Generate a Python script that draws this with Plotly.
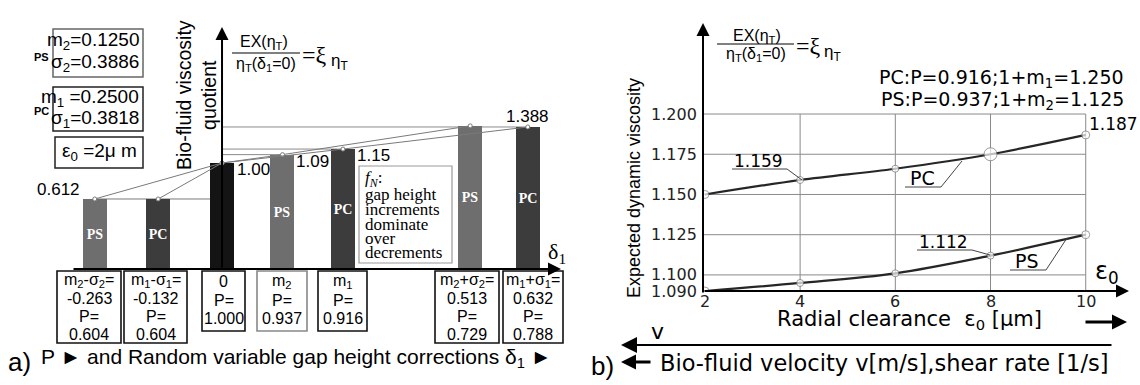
import plotly.graph_objects as go

W, H = 1140, 385

# ---------------- data: panel a) ----------------
delta = [-0.263, -0.132, 0.0, 0.125, 0.25, 0.513, 0.632]   # gap height corrections δ1
quotient = [0.612, 0.612, 1.00, 1.09, 1.15, 1.40, 1.388]    # bio-fluid viscosity quotient
material = ["PS", "PC", "", "PS", "PC", "PS", "PC"]
prob = [0.604, 0.604, 1.000, 0.937, 0.916, 0.729, 0.788]
box_head = ["m<sub>2</sub>-σ<sub>2</sub>=", "m<sub>1</sub>-σ<sub>1</sub>=", "0",
            "m<sub>2</sub>", "m<sub>1</sub>",
            "m<sub>2</sub>+σ<sub>2</sub>=", "m<sub>1</sub>+σ<sub>1</sub>="]
value_labels = ["0.612", "", "1.00", "1.09", "1.15", "", "1.388"]
ps_chain = [0, 2, 3, 5]
pc_chain = [1, 2, 4, 6]
guide_idx = [3, 4, 6]

# ---------------- data: panel b) ----------------
eps0 = [2, 4, 6, 8, 10]
pc_visc = [1.150, 1.159, 1.166, 1.175, 1.187]
ps_visc = [1.090, 1.095, 1.101, 1.112, 1.125]
y_ticks_b = [1.090, 1.100, 1.125, 1.150, 1.175, 1.200]
x_ticks_b = [2, 4, 6, 8, 10]

# ---------------- styles ----------------
SANS = "Liberation Sans, Arial, sans-serif"
WIDE = "DejaVu Sans, sans-serif"
SERIF = "Liberation Serif, Times New Roman, serif"
COL = {"PS": "#6e6e6e", "PC": "#3c3c3c", "": "#141414"}
Y0 = -0.137
GRID = "#8a8a8a"


def T(x, y, text, size, family=SANS, xanchor="center", color="black", **kw):
    return dict(xref="paper", yref="paper", x=x / W, y=1 - y / H, text=text,
                showarrow=False, xanchor=xanchor, yanchor="middle",
                font=dict(family=family, size=size, color=color), **kw)


def ARROW(xt, yt, xs, ys, width=2, size=1.3, head=2):
    return dict(xref="paper", yref="paper", x=xt / W, y=1 - yt / H,
                ax=xs - xt, ay=ys - yt, axref="pixel", ayref="pixel",
                showarrow=True, arrowhead=head, arrowsize=size, arrowwidth=width,
                arrowcolor="black", text="", standoff=0)


def LINE(x0, y0, x1, y1, color="black", width=1):
    return dict(type="line", xref="paper", yref="paper", x0=x0 / W, y0=1 - y0 / H,
                x1=x1 / W, y1=1 - y1 / H, line=dict(color=color, width=width))


def RECT(x0, y0, x1, y1, color="black", width=1.5):
    return dict(type="rect", xref="paper", yref="paper", x0=x0 / W, y0=1 - y0 / H,
                x1=x1 / W, y1=1 - y1 / H, line=dict(color=color, width=width))


def PATH(pts, color="#444", width=1):
    d = "M " + " L ".join(f"{x / W},{1 - y / H}" for x, y in pts)
    return dict(type="path", xref="paper", yref="paper", path=d,
                line=dict(color=color, width=width))


fig = go.Figure()

# ---------- panel a) bars ----------
fig.add_trace(go.Bar(
    x=delta, y=[q - Y0 for q in quotient], base=Y0, width=0.0496,
    marker=dict(color=[COL[m] for m in material], line_width=0),
    text=[f"<b>{m}</b>" if m else "" for m in material],
    textposition="inside", insidetextanchor="middle", constraintext="none",
    textfont=dict(family=SERIF, size=14, color="white"), textangle=0,
    xaxis="x", yaxis="y", hoverinfo="skip"))

for chain in (ps_chain, pc_chain):
    fig.add_trace(go.Scatter(
        x=[delta[i] for i in chain], y=[quotient[i] for i in chain],
        mode="lines+markers", line=dict(color="#7a7a7a", width=1),
        marker=dict(size=4, color="white", line=dict(color="#7a7a7a", width=1)),
        xaxis="x", yaxis="y", hoverinfo="skip"))

# ---------- panel b) curves ----------
fig.add_trace(go.Scatter(
    x=eps0, y=pc_visc, mode="lines+markers",
    line=dict(color="#262626", width=2.2, shape="spline"),
    marker=dict(size=[8, 7, 7, 13, 8], color="white", line=dict(color="#777", width=1)),
    xaxis="x2", yaxis="y2", hoverinfo="skip"))
fig.add_trace(go.Scatter(
    x=eps0, y=ps_visc, mode="lines+markers",
    line=dict(color="#262626", width=2.2, shape="spline"),
    marker=dict(size=[8, 7, 7, 7, 8], color="white", line=dict(color="#777", width=1)),
    xaxis="x2", yaxis="y2", hoverinfo="skip"))

shapes = []
ann = []

# guide lines (panel a)
shapes.append(dict(type="line", xref="x", yref="y", x0=delta[0], y0=quotient[0],
                   x1=delta[2], y1=quotient[0], line=dict(color="#7a7a7a", width=1),
                   layer="below"))
for k in guide_idx:
    shapes.append(dict(type="line", xref="x", yref="y", x0=delta[2], y0=quotient[k],
                       x1=delta[k], y1=quotient[k], line=dict(color="#8a8a8a", width=1),
                       layer="below"))

# axes panel a)
ann.append(dict(xref="x", yref="paper", x=delta[2], y=1 - 27 / H, ax=0, ay=242,
                axref="pixel", ayref="pixel", showarrow=True, arrowhead=2,
                arrowsize=1.3, arrowwidth=2, arrowcolor="black", text="", standoff=0))
ann.append(ARROW(561, 269, 72, 269))
ann.append(T(557, 253, "δ<sub>1</sub>", 22, SERIF))

# bar value labels
lab_off = [(-13, 9, "right"), None, (13, -7, "left"), (12, -7, "left"),
           (12, -6, "left"), None, (0, 10, "center")]
for i, lbl in enumerate(value_labels):
    if lbl and lab_off[i]:
        dx, dy, xa = lab_off[i]
        ann.append(dict(xref="x", yref="y", x=delta[i], y=quotient[i], text=lbl,
                        showarrow=False, xanchor=xa, yanchor="middle", xshift=dx,
                        yshift=dy, font=dict(family=SANS, size=17, color="black")))

# parameter boxes (top-left)
shapes += [RECT(53, 29, 143, 77, "#666"), RECT(53, 87, 143, 131, "#222"),
           RECT(55, 137, 143, 168, "#222")]
ann += [T(141, 41, "m<sub>2</sub>=0.1250", 19, xanchor="right"),
        T(141, 63, "σ<sub>2</sub>=0.3886", 19, xanchor="right"),
        T(141, 98, "m<sub>1</sub> =0.2500", 19, xanchor="right"),
        T(141, 119, "σ<sub>1</sub>=0.3818", 19, xanchor="right"),
        T(99, 152, "ε<sub>0</sub> =2μ m", 19),
        T(41, 57, "<b>PS</b>", 11), T(41, 111, "<b>PC</b>", 11)]

# y title + formula (panel a)
ann.append(T(197, 95, "Bio-fluid viscosity<br>quotient", 19.5, textangle=-90))
ann.append(T(264, 42, "EX(η<sub>T</sub>)", 16))
shapes.append(LINE(232, 53, 300, 53, "black", 1))
ann.append(T(266, 64, "η<sub>T</sub>(δ<sub>1</sub>=0)", 16))
ann.append(T(300, 55, "=ξ", 24, SERIF, xanchor="left"))
ann.append(T(329, 62, "η<sub>T</sub>", 17, xanchor="left"))

# f_N box
shapes.append(RECT(359, 166, 452, 263, "#999", 1.2))
fn_lines = ["<i>f<sub>N</sub></i>:", "gap height", "increments", "dominate", "over",
            "decrements"]
fn_y = [179, 195, 210, 224, 238, 252]
for s, yy in zip(fn_lines, fn_y):
    ann.append(T(363, yy, s, 17, SERIF, xanchor="left"))

# bottom label boxes
BOX_X = [(57, 121), (124, 187), (202, 245), (257, 307), (318, 367), (435, 499), (503, 563)]
for i, (x0, x1) in enumerate(BOX_X):
    if box_head[i].endswith("="):
        lines = [box_head[i], f"{delta[i]:.3f}", "P=", f"{prob[i]:.3f}"]
        ys = [280, 298, 316, 334]
        bottom = 343
    else:
        lines = [box_head[i], "P=", f"{prob[i]:.3f}"]
        ys = [281, 300, 318]
        bottom = 331
    shapes.append(RECT(x0, 271, x1, bottom, "#888" if i == 3 else "#111", 1.6))
    for s, yy in zip(lines, ys):
        ann.append(T((x0 + x1) / 2, yy, s, 16))

# caption a)
ann.append(T(6, 362, "a)", 26, xanchor="left"))
ann.append(T(39, 358, "P ► and Random variable gap height corrections δ<sub>1</sub> ►", 21,
             xanchor="left"))

# ---------- panel b) decorations ----------
for yv in y_ticks_b:
    shapes.append(dict(type="line", xref="x2", yref="y2", x0=1.96, x1=x_ticks_b[-1],
                       y0=yv, y1=yv, line=dict(color=GRID, width=1), layer="below"))
for xv in x_ticks_b[1:]:
    shapes.append(dict(type="line", xref="x2", yref="y2", x0=xv, x1=xv,
                       y0=y_ticks_b[0], y1=y_ticks_b[-1], line=dict(color=GRID, width=1),
                       layer="below"))
for yv in y_ticks_b:
    ann.append(dict(xref="paper", yref="y2", x=699 / W, y=yv, text=f"{yv:.3f}",
                    showarrow=False, xanchor="right", yanchor="middle",
                    font=dict(family=WIDE, size=16, color="#222")))
for xv in x_ticks_b:
    ann.append(dict(xref="x2", yref="paper", x=xv, y=1 - 301 / H, text=str(xv),
                    showarrow=False, xanchor="center", yanchor="middle",
                    font=dict(family=WIDE, size=16, color="#222")))

ann.append(ARROW(703, 23, 703, 294))
ann.append(ARROW(1129, 291, 703, 291))
ann.append(T(1107, 272, "ε<sub>0</sub>", 24, WIDE))

ann.append(T(634, 188, "Expected dynamic viscosity", 18, textangle=-90))
ann.append(T(757, 36, "EX(η<sub>T</sub>)", 16))
shapes.append(LINE(717, 44, 794, 44, "black", 1))
ann.append(T(756, 54, "η<sub>T</sub>(δ<sub>1</sub>=0)", 16))
ann.append(T(794, 46, "=ξ", 24, SERIF, xanchor="left"))
ann.append(T(822, 53, "η<sub>T</sub>", 17, xanchor="left"))

ann.append(T(1126, 79, "PC:P=0.916;1+m<sub>1</sub>=1.250", 19, WIDE, xanchor="right"))
ann.append(T(1126, 101, "PS:P=0.937;1+m<sub>2</sub>=1.125", 19, WIDE, xanchor="right"))

# point labels with leaders
ann.append(T(758, 161, f"{pc_visc[1]:.3f}", 17, WIDE))
shapes.append(PATH([(732, 169), (787, 169), (802, 180)]))
ann.append(T(1087, 124, f"{pc_visc[-1]:.3f}", 17, WIDE, xanchor="left"))
ann.append(T(943, 242, f"{ps_visc[3]:.3f}", 17, WIDE))
shapes.append(PATH([(917, 250), (972, 250), (990, 255)]))
ann.append(T(922, 178, "PC", 19, WIDE))
shapes.append(PATH([(905, 187), (941, 187), (962, 161)]))
ann.append(T(1027, 261, "PS", 19, WIDE))
shapes.append(PATH([(1010, 270), (1046, 270), (1067, 238)]))

ann.append(T(775, 320, "Radial clearance  ε<sub>0</sub> [μm]", 21, WIDE, xanchor="left"))
ann.append(ARROW(1127, 322, 1084, 322, width=3, size=1.0))
ann.append(T(657, 331, "v", 22, WIDE))
ann.append(ARROW(621, 345, 1113, 345, width=2, size=1.6))
ann.append(T(589, 366, "b)", 26, xanchor="left"))
ann.append(ARROW(621, 362, 652, 362, width=3, size=1.0))
ann.append(T(658, 363, "Bio-fluid velocity v[m/s],shear rate [1/s]", 22.5, WIDE,
             xanchor="left"))

fig.update_layout(
    width=W, height=H, margin=dict(l=0, r=0, t=0, b=0),
    paper_bgcolor="white", plot_bgcolor="white", showlegend=False,
    bargap=0,
    xaxis=dict(domain=[60 / W, 570 / W], range=[-0.3349, 0.7193], visible=False),
    yaxis=dict(domain=[1 - 268.5 / H, 1 - 30 / H], range=[Y0, Y0 + 238.5 / 92.8],
               visible=False),
    xaxis2=dict(domain=[703 / W, 1130 / W], range=[1.96, 10.93], visible=False,
                anchor="y2"),
    yaxis2=dict(domain=[1 - 291 / H, 1 - 22 / H], range=[1.090, 1.2572], visible=False,
                anchor="x2"),
    shapes=shapes, annotations=ann,
)

fig.write_html("out.html", config={"displayModeBar": False},
               post_script="document.body.style.margin='0';")
